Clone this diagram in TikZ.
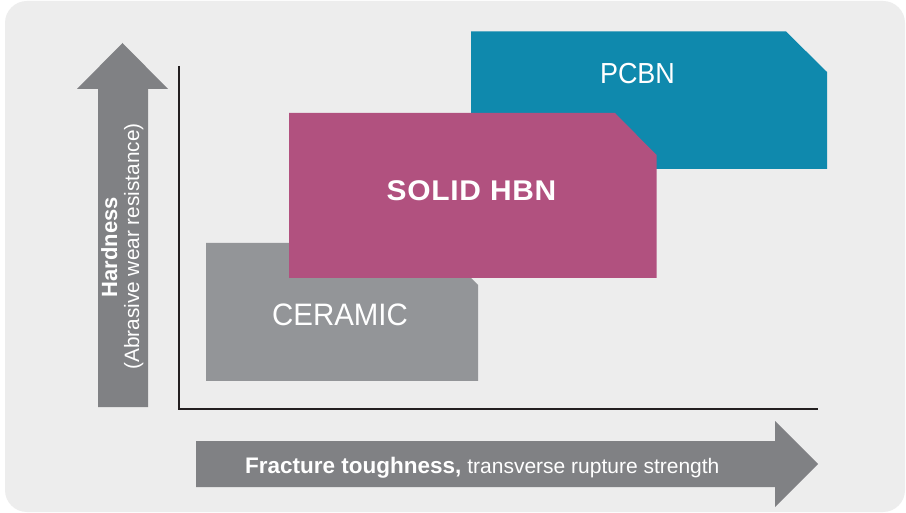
\documentclass[tikz,border=0pt]{standalone}
\usepackage{fontspec}
\setmainfont{Liberation Sans}
\definecolor{bg}{HTML}{EDEDED}
\definecolor{arrowgrey}{HTML}{808184}
\definecolor{ceramic}{HTML}{939598}
\definecolor{hbn}{HTML}{B1517F}
\definecolor{pcbn}{HTML}{0F89AD}
\definecolor{axiscol}{HTML}{231F20}
\tikzset{
  bigarrow/.style={fill=arrowgrey},
  block/.style={draw=none},
  axisline/.style={draw=axiscol, line width=2pt},
  blocklabel/.style={text=white, inner sep=0pt, anchor=base},
  arrowlabel/.style={text=white, inner sep=0pt, anchor=base},
}
\begin{document}
\begin{tikzpicture}[x=1pt,y=-1pt]
\useasboundingbox (0,0) rectangle (906,513);
\fill[white] (0,0) rectangle (906,513);
\fill[bg, rounded corners=22pt] (5,1) rectangle (905,512);

% vertical arrow
\fill[bigarrow] (98,407) -- (98,89) -- (77,89) -- (122.5,43) -- (168,89) -- (148,89) -- (148,407) -- cycle;
% horizontal arrow
\fill[bigarrow] (196,441) -- (775,441) -- (775,421) -- (818,464) -- (775,507) -- (775,487) -- (196,487) -- cycle;

% axes
\coordinate (ytop) at (178.5,66);
\coordinate (origin) at (178.5,408.5);
\coordinate (xend) at (818,408.5);
\draw[axisline] (ytop) -- (origin) -- (xend);

% blocks
\fill[ceramic, block] (206,243) -- (436,243) -- (478,285) -- (478,381) -- (206,381) -- cycle;
\fill[pcbn, block] (471,31.5) -- (786,31.5) -- (827,72) -- (827,169) -- (471,169) -- cycle;
\fill[hbn, block] (289,113) -- (615,113) -- (656.5,155) -- (656.5,278) -- (289,278) -- cycle;

% block labels
\node[blocklabel] (pcbnlabel) at (637.5,84) {\fontsize{29}{29}\selectfont\addfontfeature{FakeStretch=0.93}PCBN};
\node[blocklabel] (hbnlabel) at (471.5,200.5) {\fontsize{28.5}{28.5}\selectfont\addfontfeature{FakeStretch=1.05,LetterSpace=2.5}\bfseries SOLID HBN};
\node[blocklabel] (ceramiclabel) at (340,326) {\fontsize{31}{31}\selectfont\addfontfeature{FakeStretch=0.95}CERAMIC};

% axis labels
\node[arrowlabel, anchor=base west] (xlabel) at (245,473) {\fontsize{22.5}{22.5}\selectfont\textbf{Fracture toughness,}\fontsize{21}{21}\selectfont{} transverse rupture strength};
\node[arrowlabel, rotate=90] (ylabel) at (117,247) {\fontsize{22}{22}\selectfont\bfseries Hardness};
\node[arrowlabel, rotate=90] (ysublabel) at (139,246.5) {\fontsize{20.8}{20.8}\selectfont (Abrasive wear resistance)};
\end{tikzpicture}
\end{document}
